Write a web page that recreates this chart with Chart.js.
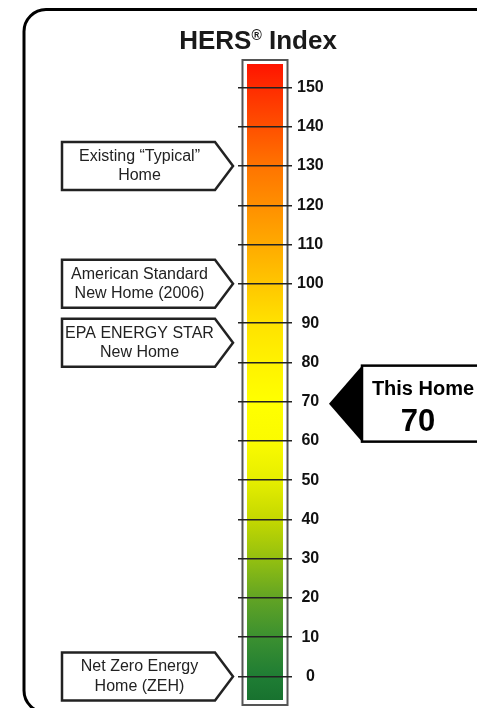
<!DOCTYPE html>
<html lang="en">
<head>
  <meta charset="UTF-8">
  <title>HERS Index</title>
  <script src="https://cdn.jsdelivr.net/npm/chart.js"></script>
  <style>
    body { margin: 0; background: #fff; }
    #wrap { width: 477px; height: 708px; position: relative; }
  </style>
</head>
<body>
  <div id="wrap"><canvas id="hersChart" width="477" height="708"></canvas></div>

<script>
  // scale data
  const categories = ['HERS Index'];
  const barRange = [-6, 156];
  const axisMin = -6;
  const axisMax = 156;
  const tickStep = 10;

  // colour stops along the bar (value -> colour)
  const stopValues = [156, 150, 130, 110, 100, 90, 80, 70, 60, 50, 40, 30, 20, 10, 0, -6];
  const stopColors = ['#ff1400', '#ff2c00', '#ff7400', '#ffaa00', '#ffc600', '#ffe200', '#fff200', '#ffff00',
                      '#fbfb00', '#e6ee00', '#c4d800', '#94c010', '#62a424', '#3b9030', '#1f7d34', '#18722f'];

  // callouts on the left
  const calloutLabels = [
    ['Existing \u201cTypical\u201d', 'Home'],
    ['American Standard', 'New Home (2006)'],
    ['EPA ENERGY STAR', 'New Home'],
    ['Net Zero Energy', 'Home (ZEH)']
  ];
  const calloutValues = [130, 100, 85, 0];

  // marker on the right
  const homeLabel = 'This Home';
  const homeValue = 70;

  const FONT = '"Liberation Sans", Arial, sans-serif';

  function barGradient(context) {
    const chart = context.chart;
    const y = chart.scales.y;
    if (!chart.chartArea || !y) return stopColors[7];
    const top = y.getPixelForValue(axisMax);
    const bottom = y.getPixelForValue(axisMin);
    const g = chart.ctx.createLinearGradient(0, top, 0, bottom);
    stopValues.forEach((v, i) => {
      const t = (y.getPixelForValue(v) - top) / (bottom - top);
      g.addColorStop(Math.min(1, Math.max(0, t)), stopColors[i]);
    });
    return g;
  }

  const decorPlugin = {
    id: 'decor',
    beforeDraw(chart) {
      const c = chart.ctx;
      c.save();
      // rounded outer frame
      c.strokeStyle = '#000';
      c.lineWidth = 3;
      c.beginPath();
      c.roundRect(24, 9.5, 480, 703, 22);
      c.stroke();

      // title with registered mark
      const cx = 258, cy = 42;
      c.fillStyle = '#1a1a1a';
      c.textBaseline = 'middle';
      c.font = 'bold 26px ' + FONT;
      const w1 = c.measureText('HERS').width;
      const w3 = c.measureText(' Index').width;
      c.font = 'bold 14px ' + FONT;
      const w2 = c.measureText('\u00ae').width;
      let x = cx - (w1 + w2 + w3) / 2;
      c.textAlign = 'left';
      c.font = 'bold 26px ' + FONT;
      c.fillText('HERS', x, cy);
      c.font = 'bold 14px ' + FONT;
      c.fillText('\u00ae', x + w1, cy - 6);
      c.font = 'bold 26px ' + FONT;
      c.fillText(' Index', x + w1 + w2, cy);
      c.restore();
    },
    afterDatasetsDraw(chart) {
      // grey box around the bar
      const c = chart.ctx;
      const bar = chart.getDatasetMeta(0).data[0];
      const y = chart.scales.y;
      const top = y.getPixelForValue(axisMax) - 4;
      const bottom = y.getPixelForValue(axisMin) + 5;
      c.save();
      c.strokeStyle = '#555';
      c.lineWidth = 2;
      c.strokeRect(bar.x - bar.width / 2 - 4.5, top, bar.width + 9, bottom - top);
      c.restore();
    },
    afterDraw(chart) {
      const c = chart.ctx;
      const y = chart.scales.y;
      const area = chart.chartArea;
      c.save();

      // left callouts
      const tipX = area.left - 5;
      const rectR = tipX - 18;
      const rectL = 62;
      calloutValues.forEach((v, i) => {
        const py = y.getPixelForValue(v);
        c.beginPath();
        c.moveTo(rectL, py - 24);
        c.lineTo(rectR, py - 24);
        c.lineTo(tipX, py);
        c.lineTo(rectR, py + 24);
        c.lineTo(rectL, py + 24);
        c.closePath();
        c.fillStyle = '#fff';
        c.fill();
        c.strokeStyle = '#222';
        c.lineWidth = 2.5;
        c.stroke();
        c.fillStyle = '#222';
        c.font = '16px ' + FONT;
        c.textAlign = 'center';
        c.textBaseline = 'middle';
        const mid = (rectL + rectR) / 2 + 1;
        c.fillText(calloutLabels[i][0], mid, py - 9.5);
        c.fillText(calloutLabels[i][1], mid, py + 10);
      });

      // right marker
      const hy = y.getPixelForValue(homeValue) + 2;
      const hTip = area.right + 37;
      const hBox = hTip + 33;
      c.beginPath();
      c.moveTo(hTip, hy);
      c.lineTo(hBox, hy - 38);
      c.lineTo(hBox, hy + 38);
      c.closePath();
      c.fillStyle = '#000';
      c.fill();
      c.fillStyle = '#fff';
      c.fillRect(hBox, hy - 38, 130, 76);
      c.strokeStyle = '#000';
      c.lineWidth = 2.5;
      c.strokeRect(hBox, hy - 38, 130, 76);
      c.fillStyle = '#000';
      c.textAlign = 'center';
      c.textBaseline = 'middle';
      c.font = 'bold 20px ' + FONT;
      c.fillText(homeLabel, hBox + 61, hy - 14);
      c.font = 'bold 31px ' + FONT;
      c.fillText(String(homeValue), hBox + 56, hy + 19);
      c.restore();
    }
  };

  new Chart(document.getElementById('hersChart'), {
    type: 'bar',
    data: {
      labels: categories,
      datasets: [{
        data: [barRange],
        backgroundColor: barGradient,
        borderWidth: 0,
        barPercentage: 1,
        categoryPercentage: 0.667
      }]
    },
    options: {
      responsive: false,
      animation: false,
      layout: { padding: { left: 238, top: 64, bottom: 8, right: 0 } },
      plugins: { legend: { display: false }, tooltip: { enabled: false } },
      scales: {
        x: { display: false },
        y: {
          position: 'right',
          min: axisMin,
          max: axisMax,
          afterFit(scale) {
            scale.width = 185;
            scale.paddingTop = 0;
            scale.paddingBottom = 0;
          },
          border: { display: false },
          grid: { color: '#222', lineWidth: 1.5, drawTicks: false, z: 1 },
          ticks: {
            stepSize: tickStep,
            includeBounds: false,
            crossAlign: 'center',
            padding: 5,
            color: '#111',
            font: { family: FONT, size: 16, weight: 'bold' }
          }
        }
      }
    },
    plugins: [decorPlugin]
  });
</script>
</body>
</html>
